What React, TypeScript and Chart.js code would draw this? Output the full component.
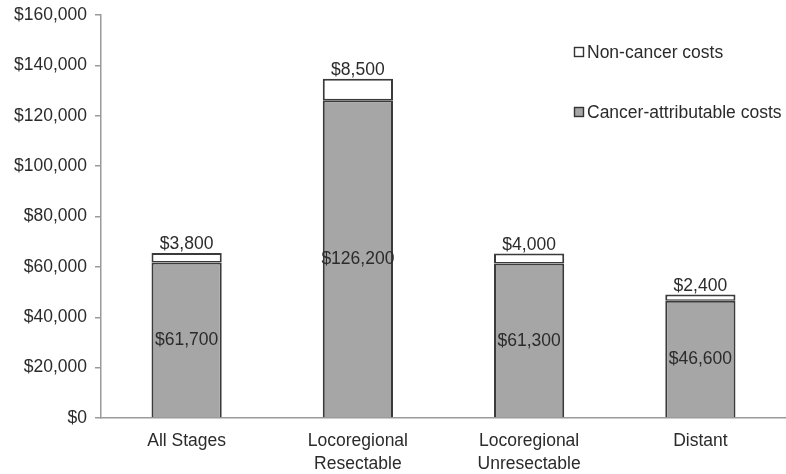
import React, { useEffect, useRef } from "react";
import { Chart, registerables } from "chart.js";

Chart.register(...registerables);

const stages = [["All Stages"], ["Locoregional", "Resectable"], ["Locoregional", "Unresectable"], ["Distant"]];
const cancerCosts = [61700, 126200, 61300, 46600];
const nonCancerCosts = [3800, 8500, 4000, 2400];
const yTicks = [0, 20000, 40000, 60000, 80000, 100000, 120000, 140000, 160000];

const FONT = "'Liberation Sans', Arial, sans-serif";
const TEXT = "#2b2b2b";
const money = (v: number) => "$" + v.toLocaleString("en-US");

const labelsPlugin = {
  id: "costLabels",
  afterDatasetsDraw(chart: any) {
    const ctx = chart.ctx;
    ctx.save();
    ctx.font = `17.5px ${FONT}`;
    ctx.fillStyle = TEXT;
    ctx.textAlign = "center";
    const base = chart.getDatasetMeta(0);
    const top = chart.getDatasetMeta(1);
    base.data.forEach((bar: any, i: number) => {
      const y0 = chart.scales.y.getPixelForValue(0);
      ctx.textBaseline = "middle";
      ctx.fillText(money(cancerCosts[i]), bar.x, (bar.y + y0) / 2);
      const tb = top.data[i];
      ctx.textBaseline = "alphabetic";
      ctx.fillText(money(nonCancerCosts[i]), tb.x, tb.y - 4);
    });

    // legend, top right
    const items = [
      { label: "Non-cancer costs", fill: "#ffffff", y: 52 },
      { label: "Cancer-attributable costs", fill: "#a6a6a6", y: 112 },
    ];
    items.forEach((it) => {
      ctx.fillStyle = it.fill;
      ctx.fillRect(574.5, it.y - 4.5, 9, 9);
      ctx.strokeStyle = "#333";
      ctx.lineWidth = 1.4;
      ctx.strokeRect(574.5, it.y - 4.5, 9, 9);
      ctx.fillStyle = TEXT;
      ctx.textAlign = "left";
      ctx.textBaseline = "middle";
      ctx.fillText(it.label, 587, it.y + 1);
    });
    ctx.restore();
  },
};

export default function App() {
  const ref = useRef<HTMLCanvasElement>(null);
  useEffect(() => {
    if (!ref.current) return;
    const chart = new Chart(ref.current, {
      type: "bar",
      data: {
        labels: stages,
        datasets: [
          {
            label: "Cancer-attributable costs",
            data: cancerCosts,
            backgroundColor: "#a6a6a6",
            borderColor: "#3a3a3a",
            borderWidth: { top: 2, left: 2, right: 2, bottom: 0 },
            borderSkipped: false,
            barPercentage: 0.41,
            categoryPercentage: 1,
          },
          {
            label: "Non-cancer costs",
            data: nonCancerCosts,
            backgroundColor: "#ffffff",
            borderColor: "#3a3a3a",
            borderWidth: { top: 2, left: 2, right: 2, bottom: 1.5 },
            borderSkipped: false,
            barPercentage: 0.41,
            categoryPercentage: 1,
          },
        ],
      },
      options: {
        animation: false,
        responsive: false,
        layout: { padding: { top: 15, right: 0, left: 0, bottom: 0 } },
        plugins: { legend: { display: false }, tooltip: { enabled: false } },
        scales: {
          x: {
            stacked: true,
            grid: { display: false },
            border: { display: true, color: "#9a9a9a", width: 1.5 },
            ticks: { color: TEXT, font: { family: FONT, size: 17.5, lineHeight: 1.3 }, padding: 4 },
            afterFit: (s: any) => { s.height = 56; },
          },
          y: {
            stacked: true,
            min: 0,
            max: 160000,
            afterBuildTicks: (s: any) => { s.ticks = yTicks.map((v) => ({ value: v })); },
            grid: { drawOnChartArea: false, drawTicks: true, tickLength: 6, color: "#9a9a9a", lineWidth: 1.5 },
            border: { display: true, color: "#9a9a9a", width: 1.5 },
            ticks: {
              color: TEXT,
              font: { family: FONT, size: 17.5, lineHeight: 0.8 },
              padding: 8,
              callback: (v: any) => money(Number(v)),
            },
            afterFit: (s: any) => { s.width = 101; },
          },
        },
      },
      plugins: [labelsPlugin],
    });
    return () => chart.destroy();
  }, []);
  return (
    <div style={{ position: "fixed", left: 0, top: 0, width: 786, height: 474, background: "#fff" }}>
      <canvas ref={ref} width={786} height={474} style={{ display: "block" }} />
    </div>
  );
}
